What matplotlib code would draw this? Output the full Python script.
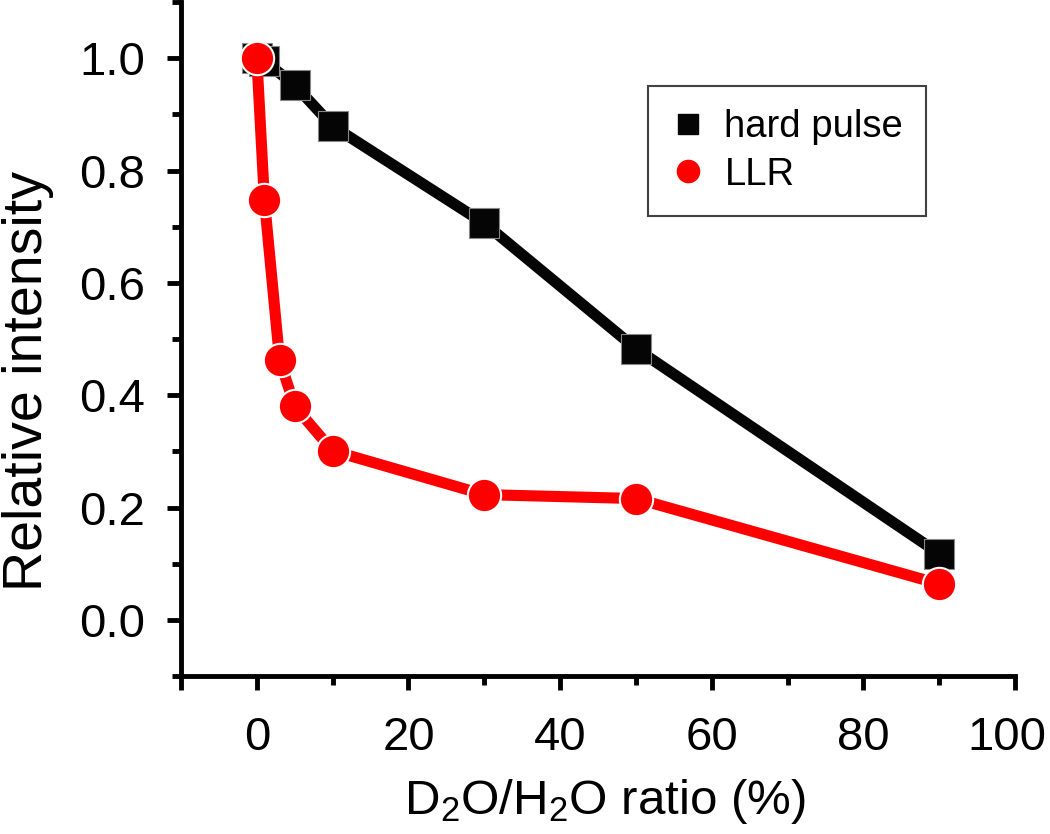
import matplotlib
matplotlib.use("Agg")
import matplotlib.pyplot as plt
import matplotlib.transforms as mtransforms
from matplotlib.lines import Line2D
from matplotlib.ticker import MultipleLocator

plt.rcParams["font.family"] = ["Liberation Sans", "DejaVu Sans"]
plt.rcParams["mathtext.default"] = "regular"

# data
ratio_hard = [0, 1, 5, 10, 30, 50, 90]
hard_pulse = [1.0, 0.995, 0.952, 0.879, 0.706, 0.483, 0.118]
ratio_llr = [0, 1, 3, 5, 10, 30, 50, 90]
llr = [1.0, 0.747, 0.463, 0.380, 0.301, 0.223, 0.216, 0.064]

x_ticks = [-10, 0, 20, 40, 60, 80, 100]
x_ticklabels = ["", "0", "20", "40", "60", "80", "100"]
y_ticks = [0.0, 0.2, 0.4, 0.6, 0.8, 1.0]

fig = plt.figure(figsize=(10.5, 8.34), dpi=100)
ax = fig.add_axes([0.1724, 0.1894, 0.7943, 0.8082])

ax.plot(ratio_hard, hard_pulse, color="#050505", lw=8, marker="s", ms=21,
        mfc="#050505", mec="#888888", mew=0.8, zorder=3)
ax.plot(ratio_llr, llr, color="#ff0000", lw=8, marker="o", ms=24,
        mfc="#ff0000", mec="white", mew=1.5, zorder=4)

ax.set_xlim(-10, 100)
ax.set_ylim(-0.1, 1.1)
ax.set_xticks(x_ticks)
ax.set_xticklabels(x_ticklabels)
ax.xaxis.set_minor_locator(MultipleLocator(10))
ax.set_yticks(y_ticks)
ax.set_yticklabels([f"{v:.1f}" for v in y_ticks])
ax.yaxis.set_minor_locator(MultipleLocator(0.1))

for side in ["top", "right"]:
    ax.spines[side].set_visible(False)
for side in ["left", "bottom"]:
    ax.spines[side].set_linewidth(3.5)

ax.tick_params(which="major", direction="out", length=10, width=3.5,
               labelsize=34)
ax.tick_params(axis="x", which="major", pad=19)
ax.tick_params(axis="y", which="major", pad=16)
ax.tick_params(which="minor", direction="out", length=6.5, width=3.5)

# the last x label sits a little left of its tick, as in the reference
last = ax.get_xticklabels()[-1]
last.set_transform(last.get_transform() +
                   mtransforms.ScaledTranslation(-6 / 72, 0, fig.dpi_scale_trans))

ax.set_xlabel("D$_2$O/H$_2$O ratio (%)", fontsize=35.5)
ax.xaxis.set_label_coords(0.508, -0.150)
ax.set_ylabel("Relative intensity", fontsize=40)
ax.yaxis.set_label_coords(-0.152, 0.438)

handles = [
    Line2D([], [], ls="none", marker="s", ms=14, mfc="#050505", mec="#050505",
           label="hard pulse"),
    Line2D([], [], ls="none", marker="o", ms=16, mfc="#ff0000", mec="#ff0000",
           label="LLR"),
]
leg = ax.legend(handles=handles, loc="upper left",
                bbox_to_anchor=(0.56, 0.875), fontsize=27.5, frameon=True,
                fancybox=False, handlelength=0.9, handletextpad=0.5,
                borderpad=0.6, borderaxespad=0, labelspacing=0.3)
leg.get_frame().set_edgecolor("#111111")
leg.get_frame().set_linewidth(1.5)

fig.savefig("out.png", dpi=100)
